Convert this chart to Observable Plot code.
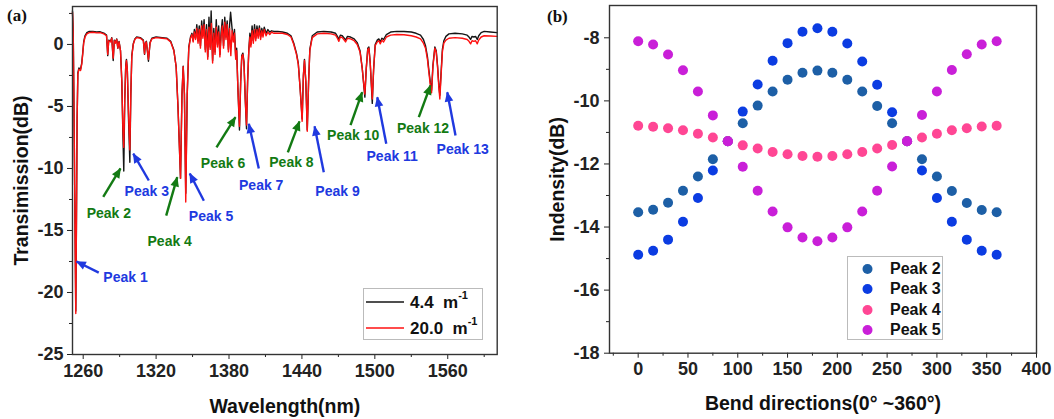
<!DOCTYPE html>
<html>
<head>
<meta charset="utf-8">
<script src="https://cdn.jsdelivr.net/npm/d3@7"></script>
<script src="https://cdn.jsdelivr.net/npm/@observablehq/plot@0.6"></script>
<style>
  html, body { margin: 0; padding: 0; background: #fff; }
  body { width: 1054px; height: 419px; position: relative; overflow: hidden;
         font-family: "Liberation Sans", Arial, sans-serif; }
  .panel { position: absolute; top: 0; }
  .tag { position: absolute; font-family: "Liberation Serif", "Times New Roman", serif;
         font-weight: bold; font-size: 17px; color: #111; }
  .legend { position: absolute; border: 1px solid #bbb; background: #fff; box-sizing: border-box; }
  .row { position: absolute; left: 0; right: 0; height: 20px; display: flex; align-items: center;
         font-weight: bold; color: #111; white-space: pre; }
  sup { font-size: 11px; position: relative; top: -2px; }
</style>
</head>
<body>
<div id="panelA" class="panel" style="left:0px"></div>
<div id="panelB" class="panel" style="left:527px"></div>
<div class="tag" style="left:7px; top:6px">(a)</div>
<div class="tag" style="left:547px; top:7px">(b)</div>

<div id="legendA" class="legend" style="left:363px; top:288px; width:120px; height:52px;"></div>
<div id="legendB" class="legend" style="left:847px; top:256px; width:96px; height:84px;"></div>

<script>
// ---------------- Panel (a) data ----------------
const wavelengthTicks = [1260, 1320, 1380, 1440, 1500, 1560];
const wavelengthMinorTicks = [1290, 1350, 1410, 1470, 1530, 1590];
const transTicks = [-25, -20, -15, -10, -5, 0];
const transMinorTicks = [-22.5, -17.5, -12.5, -7.5, -2.5, 2.5];

const curvatureLabels = ["4.4", "20.0"];

// [wavelength nm, transmission dB] for curvature 4.4 m^-1 (black)
const spectrum44 = [
  [1251.2, 2.7], [1251.8, 1.0], [1252.5, -6], [1253.4, -16], [1253.9, -21.5], [1254.4, -15],
  [1255.0, -6], [1255.6, -2.3], [1256.5, -1.9], [1257.8, -2.0], [1258.8, -1.5], [1259.6, -0.7],
  [1260.4, 0.2], [1261.5, 0.7], [1263, 0.95], [1265, 1.05], [1268, 1.05], [1271, 1.0],
  [1274, 1.02], [1277, 0.92], [1279.2, 0.75], [1280.2, -0.9], [1281, 0.35], [1282.5, 0.25],
  [1283.5, 0.55], [1284.7, -1.3], [1285.6, 0.35], [1286.6, 0.15], [1287.6, 0.45], [1288.5, -0.3],
  [1289.5, 0.25], [1290.7, -0.5], [1291.8, -3.0], [1292.6, -7.0], [1293.4, -10.2], [1294.2, -4.5],
  [1295.0, -1.7], [1295.6, -1.2], [1296.3, -2.0], [1297.3, -6.0], [1298.4, -9.5], [1299.2, -4.0],
  [1300.0, -0.9], [1301.2, 0.05], [1302.5, 0.45], [1304, 0.6], [1307, 0.55], [1309.5, 0.35],
  [1310.5, -0.8], [1311.2, 0.15], [1312, 0.25], [1313.7, -1.35], [1315, 0.15], [1316.5, 0.5],
  [1320, 0.6], [1325, 0.55], [1329, 0.5], [1332, 0.25], [1334.6, -0.45], [1336.5, -1.8],
  [1338.0, -5], [1340.1, -10.8], [1341.3, -4], [1342.3, -1.75], [1343.3, -4], [1344.4, -12.0],
  [1345.6, -4], [1346.9, -0.2], [1348.3, 0.6],
  [1349.5, 0.9], [1350.5, 0.3], [1351.5, 1.2], [1352.5, 0.5], [1353.5, 1.6], [1354.5, 0.3],
  [1355.5, 1.5], [1356.5, -0.1], [1357.5, 1.9], [1358.5, 0.7], [1359.5, 2.0], [1360.5, -0.4],
  [1361.5, 1.6], [1362.5, -1.0], [1363.5, 2.2], [1364.5, -0.2], [1365.3, 2.7], [1366.5, -1.3],
  [1367.5, 1.3], [1368.5, -0.6], [1369.5, 2.0], [1370.5, 0.0], [1371.5, 1.5], [1372.5, -0.8],
  [1373.5, 1.0], [1374.5, 2.0], [1375.5, -0.1], [1376.5, 2.2], [1377.5, 0.6], [1378.5, 1.9],
  [1379.5, -0.4], [1380.5, 1.6], [1381.3, 2.6], [1382.5, 1.3], [1383.5, 0.4], [1384.5, 1.2],
  [1385.5, -1.0], [1386.3, -0.3], [1387.3, -3.5], [1388.6, -6.9], [1389.6, -3.0], [1390.5, -0.9],
  [1391.4, -0.7], [1392.3, -1.4], [1393.4, -4.5], [1394.4, -6.8], [1395.3, -3.0], [1396.3, -0.4],
  [1397.2, 0.9], [1398.0, 0.0], [1399.0, 1.5], [1400.0, 0.3], [1401.0, 1.6], [1402.0, 0.5],
  [1403.0, 1.5], [1404.0, 0.7], [1405.0, 1.5], [1406.0, 0.6], [1407.0, 1.3], [1408.0, 0.8],
  [1409.0, 1.4], [1410.5, 0.9], [1412.0, 1.2], [1413.5, 1.0], [1415.0, 1.1], [1417, 1.05],
  [1420, 1.05], [1424, 1.0], [1428, 0.9], [1431, 0.7], [1433.3, 0.1], [1435.5, -0.7],
  [1437.0, -1.5], [1438.5, -3.5], [1440.2, -6.0], [1441.2, -2.5], [1442.1, -1.2], [1443.2, -3.0],
  [1444.4, -6.9], [1445.5, -3.0], [1446.5, -0.4], [1448.5, 0.7], [1452.6, 1.0], [1458, 1.05],
  [1464, 1.0], [1467.7, 0.9], [1469.2, 0.65], [1470.4, 0.4], [1471.6, 0.75], [1473.2, 0.7],
  [1474.5, 0.55], [1475.9, 0.35], [1477.5, 0.65], [1480, 0.6], [1483, 0.45], [1485.5, 0.15],
  [1487.8, -0.5], [1489.6, -1.9], [1490.9, -3.3], [1491.8, -4.25], [1492.9, -2.0], [1494.2, -0.3],
  [1495.1, -0.2], [1496.2, -1.5], [1497.2, -3.4], [1497.9, -4.75], [1499.0, -2.0], [1500.3, 0.0],
  [1502, 0.35], [1503.3, 0.45], [1504.5, 0.2], [1505.8, 0.5], [1507.2, 0.4], [1509.5, 0.8],
  [1513, 1.0], [1518, 1.05], [1524, 1.05], [1530, 1.0], [1534, 0.9], [1537.6, 0.75],
  [1540, 0.4], [1541.7, -0.1], [1543.3, -1.0], [1544.4, -2.0], [1545.7, -3.1], [1546.7, -3.7],
  [1547.8, -1.7], [1549.4, -0.2], [1550.5, -0.5], [1551.6, -1.7], [1552.7, -3.3], [1553.5, -4.1],
  [1554.5, -2.3], [1555.6, -0.4], [1556.8, 0.3], [1558.5, 0.65], [1561, 0.85], [1566, 0.9],
  [1572, 0.85], [1576, 0.75], [1577.5, 0.6], [1578.8, 0.4], [1580, 0.65], [1581.5, 0.6],
  [1582.9, 0.65], [1584.3, 0.4], [1585.5, 0.7], [1587.5, 0.95], [1590, 1.05], [1595, 1.0],
  [1600.5, 0.95]
];

// [wavelength nm, transmission dB] for curvature 20.0 m^-1 (red)
const spectrum200 = [
  [1251.2, 2.6], [1251.8, 1.0], [1252.5, -6], [1253.4, -16], [1253.9, -21.7], [1254.4, -15],
  [1255.0, -6], [1255.6, -2.4], [1256.5, -2.0], [1257.8, -2.1], [1258.8, -1.6], [1259.6, -0.8],
  [1260.4, 0.1], [1261.5, 0.6], [1263, 0.85], [1265, 0.95], [1268, 0.98], [1271, 0.93],
  [1274, 0.95], [1277, 0.85], [1279.2, 0.7], [1280.2, -0.8], [1281, 0.3], [1282.5, 0.2],
  [1283.5, 0.5], [1284.7, -1.1], [1285.6, 0.3], [1286.6, 0.1], [1287.6, 0.4], [1288.5, -0.3],
  [1289.5, 0.2], [1290.7, -0.5], [1291.8, -3.0], [1292.6, -6.5], [1293.4, -8.3], [1294.2, -4.5],
  [1295.0, -1.8], [1295.6, -1.3], [1296.3, -2.0], [1297.3, -5.5], [1298.4, -8.5], [1299.2, -4.0],
  [1300.0, -1.0], [1301.2, 0.0], [1302.5, 0.4], [1304, 0.55], [1307, 0.5], [1309.5, 0.3],
  [1310.5, -0.75], [1311.2, 0.1], [1312, 0.2], [1313.7, -1.2], [1315, 0.1], [1316.5, 0.45],
  [1320, 0.55], [1325, 0.5], [1329, 0.45], [1332, 0.2], [1334.6, -0.5], [1336.5, -1.8],
  [1338.0, -5], [1340.1, -10.8], [1341.3, -4], [1342.3, -1.8], [1343.3, -4], [1344.4, -12.7],
  [1345.6, -4], [1346.9, -0.3], [1348.3, 0.5],
  [1349.5, 0.8], [1350.5, 0.2], [1351.5, 1.0], [1352.5, 0.4], [1353.5, 1.3], [1354.5, 0.1],
  [1355.5, 1.2], [1356.5, -0.3], [1357.5, 1.5], [1358.5, 0.5], [1359.5, 1.6], [1360.5, -0.6],
  [1361.5, 1.2], [1362.5, -1.2], [1363.5, 1.4], [1364.5, -0.4], [1365.5, 1.7], [1366.5, -1.5],
  [1367.5, 0.9], [1368.5, -0.8], [1369.5, 1.4], [1370.5, -0.2], [1371.5, 1.0], [1372.5, -1.0],
  [1373.5, 0.6], [1374.5, 1.5], [1375.5, -0.3], [1376.5, 1.8], [1377.5, 0.4], [1378.5, 1.6],
  [1379.5, -0.6], [1380.5, 1.3], [1381.5, -0.9], [1382.5, 1.1], [1383.5, 0.2], [1384.5, 0.9],
  [1385.5, -1.2], [1386.3, -0.5], [1387.3, -3.5], [1388.6, -6.6], [1389.6, -3.0], [1390.5, -1.0],
  [1391.4, -0.8], [1392.3, -1.5], [1393.4, -4.5], [1394.4, -6.5], [1395.3, -3.0], [1396.3, -0.5],
  [1397.2, 0.6], [1398.0, -0.2], [1399.0, 1.1], [1400.0, 0.1], [1401.0, 1.2], [1402.0, 0.3],
  [1403.0, 1.2], [1404.0, 0.5], [1405.0, 1.3], [1406.0, 0.4], [1407.0, 1.1], [1408.0, 0.6],
  [1409.0, 1.2], [1410.5, 0.7], [1412.0, 1.0], [1413.5, 0.8], [1415.0, 1.0], [1417, 0.9],
  [1420, 0.9], [1424, 0.9], [1428, 0.8], [1431, 0.6], [1433.3, 0.0], [1435.5, -0.8],
  [1437.0, -1.6], [1438.5, -3.5], [1440.2, -6.2], [1441.2, -2.5], [1442.1, -1.3], [1443.2, -3.0],
  [1444.4, -7.0], [1445.5, -3.0], [1446.5, -0.5], [1448.5, 0.55], [1452.6, 0.85], [1458, 0.9],
  [1464, 0.85], [1467.7, 0.75], [1469.2, 0.5], [1470.4, 0.25], [1471.6, 0.6], [1473.2, 0.55],
  [1474.5, 0.4], [1475.9, 0.2], [1477.5, 0.5], [1480, 0.45], [1483, 0.3], [1485.5, 0.0],
  [1487.8, -0.6], [1489.6, -1.9], [1490.9, -3.2], [1491.8, -4.0], [1492.9, -2.0], [1494.2, -0.4],
  [1495.1, -0.3], [1496.2, -1.5], [1497.2, -3.2], [1497.9, -4.4], [1499.0, -2.0], [1500.3, -0.1],
  [1502, 0.2], [1503.3, 0.3], [1504.5, 0.05], [1505.8, 0.35], [1507.2, 0.2], [1509.5, 0.6],
  [1513, 0.75], [1518, 0.8], [1524, 0.78], [1530, 0.7], [1534, 0.6], [1537.6, 0.45],
  [1540, 0.1], [1541.7, -0.3], [1543.3, -1.2], [1544.4, -2.2], [1545.7, -3.3], [1546.7, -3.9],
  [1547.8, -1.8], [1549.4, -0.3], [1550.5, -0.6], [1551.6, -1.8], [1552.7, -3.5], [1553.5, -4.4],
  [1554.5, -2.5], [1555.6, -0.6], [1556.8, 0.1], [1558.5, 0.35], [1561, 0.5], [1566, 0.55],
  [1572, 0.5], [1576, 0.4], [1577.5, 0.25], [1578.8, 0.05], [1580, 0.3], [1581.5, 0.25],
  [1582.9, 0.3], [1584.3, 0.05], [1585.5, 0.35], [1587.5, 0.6], [1590, 0.7], [1595, 0.68],
  [1600.5, 0.65]
];

// Peak annotations (positions in data units: wavelength, dB)
const peakNames = ["Peak 1", "Peak 2", "Peak 3", "Peak 4", "Peak 5", "Peak 6", "Peak 7",
                   "Peak 8", "Peak 9", "Peak 10", "Peak 11", "Peak 12", "Peak 13"];
const peakLabelWave = [1294.8, 1281.1, 1312.3, 1331.2, 1365.2, 1375.1, 1406.5, 1431.4, 1469.3, 1482.2, 1514.3, 1539.7, 1572.3];
const peakLabelTrans = [-18.77, -13.65, -11.83, -15.86, -13.87, -9.62, -11.37, -9.54, -11.83, -7.34, -9.01, -6.75, -8.47];
const arrowTailWave = [1272.8, 1276.5, 1314.0, 1328.3, 1359.3, 1369.7, 1404.5, 1428.4, 1458.0, 1480.0, 1509.4, 1536.2, 1566.4];
const arrowTailTrans = [-18.4, -12.3, -10.97, -13.8, -12.6, -8.3, -10.0, -8.7, -10.3, -6.5, -8.0, -5.86, -7.34];
const arrowTipWave = [1254.5, 1290.7, 1301.2, 1337.4, 1347.7, 1385.3, 1396.3, 1438.0, 1450.4, 1489.6, 1502.0, 1545.8, 1559.6];
const arrowTipTrans = [-17.5, -10.0, -8.8, -10.7, -10.4, -5.86, -6.4, -6.2, -6.6, -3.85, -4.25, -3.3, -3.85];

// ---------------- Panel (b) data ----------------
const bendTicks = [0, 50, 100, 150, 200, 250, 300, 350, 400];
const bendMinorTicks = [-25, 25, 75, 125, 175, 225, 275, 325, 375];
const intensityTicks = [-18, -16, -14, -12, -10, -8];
const intensityMinorTicks = [-17, -15, -13, -11, -9];

const bendAngles = [0, 15, 30, 45, 60, 75, 90, 105, 120, 135, 150, 165, 180, 195, 210, 225, 240, 255, 270, 285, 300, 315, 330, 345, 360];
const seriesNames = ["Peak 2", "Peak 3", "Peak 4", "Peak 5"];
const peak2 = [-13.53, -13.45, -13.23, -12.85, -12.40, -11.85, -11.28, -10.71, -10.15, -9.70, -9.33, -9.11, -9.04, -9.11, -9.33, -9.70, -10.16, -10.71, -11.28, -11.85, -12.40, -12.86, -13.24, -13.46, -13.53];
const peak3 = [-14.88, -14.75, -14.40, -13.83, -13.08, -12.21, -11.28, -10.34, -9.48, -8.73, -8.17, -7.81, -7.70, -7.81, -8.18, -8.75, -9.49, -10.36, -11.28, -12.21, -13.08, -13.83, -14.40, -14.75, -14.88];
const peak4 = [-10.79, -10.82, -10.87, -10.93, -11.04, -11.16, -11.28, -11.41, -11.51, -11.62, -11.69, -11.75, -11.77, -11.75, -11.69, -11.62, -11.51, -11.40, -11.28, -11.16, -11.04, -10.93, -10.87, -10.81, -10.79];
const peak5 = [-8.11, -8.21, -8.53, -9.03, -9.70, -10.46, -11.28, -12.09, -12.85, -13.51, -14.01, -14.33, -14.45, -14.33, -14.01, -13.51, -12.85, -12.08, -11.28, -10.45, -9.70, -9.02, -8.52, -8.21, -8.11];

// ---------------- styling ----------------
const GREEN = "#137a13";
const BLUE = "#2039df";
const seriesColors = ["#1d5fa6", "#0b3ce2", "#ff4694", "#c91fd8"];
const FONT = "'Liberation Sans', Arial, Helvetica, sans-serif";

// ---------------- build tables ----------------
const peaks = peakNames.map((name, i) => ({
  name,
  lx: peakLabelWave[i], ly: peakLabelTrans[i],
  x1: arrowTailWave[i], y1: arrowTailTrans[i],
  x2: arrowTipWave[i], y2: arrowTipTrans[i],
  group: i % 2 === 0 ? "blue" : "green"
}));
const bluePeaks = peaks.filter(d => d.group === "blue");
const greenPeaks = peaks.filter(d => d.group === "green");

const fmt = d => String(d);

function axisStyle(extra) {
  return Object.assign({label: null, fontSize: 18, fontWeight: "bold"}, extra);
}
const titleStyle = {text: d => d, fontSize: 19.5, fontWeight: "bold", fill: "#111", textAnchor: "middle", lineAnchor: "middle"};

const chartA = Plot.plot({
  width: 527, height: 419,
  marginTop: 6, marginRight: 30.3, marginBottom: 65, marginLeft: 72,
  x: {domain: [1251.2, 1600.7]},
  y: {domain: [-25, 3.06]},
  style: {fontFamily: FONT, fontWeight: "bold", fontSize: "18px", color: "#222", background: "transparent", overflow: "visible"},
  marks: [
    Plot.axisX(wavelengthMinorTicks, axisStyle({tickSize: 3, tickFormat: () => ""})),
    Plot.axisX(wavelengthTicks, axisStyle({tickSize: 5, tickPadding: 5, tickFormat: fmt})),
    Plot.axisY(transMinorTicks, axisStyle({tickSize: 3, tickFormat: () => ""})),
    Plot.axisY(transTicks, axisStyle({tickSize: 5, tickPadding: 4, tickFormat: fmt})),
    Plot.text(["Wavelength(nm)"], {...titleStyle, frameAnchor: "bottom", dy: 52.5}),
    Plot.text(["Transimission(dB)"], {...titleStyle, frameAnchor: "left", dx: -51, rotate: -90}),
    Plot.line(spectrum44, {x: d => d[0], y: d => d[1], stroke: "#151515", strokeWidth: 1.4}),
    Plot.line(spectrum200, {x: d => d[0], y: d => d[1], stroke: "#ff1010", strokeWidth: 1.4}),
    Plot.link(greenPeaks, {x1: "x1", y1: "y1", x2: "x2", y2: "y2", stroke: GREEN, strokeWidth: 2.4, markerEnd: "arrow"}),
    Plot.link(bluePeaks, {x1: "x1", y1: "y1", x2: "x2", y2: "y2", stroke: BLUE, strokeWidth: 2.4, markerEnd: "arrow"}),
    Plot.text(greenPeaks, {x: "lx", y: "ly", text: "name", fill: GREEN, fontSize: 14, fontWeight: "bold"}),
    Plot.text(bluePeaks, {x: "lx", y: "ly", text: "name", fill: BLUE, fontSize: 14, fontWeight: "bold"}),
    Plot.frame({stroke: "#333", strokeWidth: 1.4})
  ]
});

// filled triangular arrowheads
d3.select(chartA).selectAll("marker").each(function () {
  const m = d3.select(this);
  const c = m.attr("stroke");
  m.attr("viewBox", "-7 -5 10 10").attr("fill", c).attr("stroke", "none");
  m.selectAll("path").attr("d", "M-5.8,-2.7L0.4,0L-5.8,2.7Z");
});
document.getElementById("panelA").appendChild(chartA);

const peakSeries = [peak2, peak3, peak4, peak5];
const dotMarks = peakSeries.map((vals, k) =>
  Plot.dot(bendAngles.map((a, i) => ({angle: a, value: vals[i]})),
           {x: "angle", y: "value", r: 5, fill: seriesColors[k], stroke: "none"})
);

const chartB = Plot.plot({
  width: 527, height: 419,
  marginTop: 5, marginRight: 18, marginBottom: 66.3, marginLeft: 82,
  x: {domain: [-28.8, 400]},
  y: {domain: [-18, -6.976]},
  style: {fontFamily: FONT, fontWeight: "bold", fontSize: "18px", color: "#222", background: "transparent", overflow: "visible"},
  marks: [
    Plot.axisX(bendMinorTicks, axisStyle({tickSize: 3, tickFormat: () => ""})),
    Plot.axisX(bendTicks, axisStyle({tickSize: 5, tickPadding: 4, tickFormat: fmt})),
    Plot.axisY(intensityMinorTicks, axisStyle({tickSize: 3, tickFormat: () => ""})),
    Plot.axisY(intensityTicks, axisStyle({tickSize: 5, tickPadding: 5, tickFormat: fmt})),
    Plot.text(["Bend directions(0° ~360°)"], {...titleStyle, frameAnchor: "bottom", dy: 51}),
    Plot.text(["Indensity(dB)"], {...titleStyle, frameAnchor: "left", dx: -51.5, rotate: -90}),
    ...dotMarks,
    Plot.frame({stroke: "#333", strokeWidth: 1.4})
  ]
});
document.getElementById("panelB").appendChild(chartB);

// ---------------- legends ----------------
const legendA = document.getElementById("legendA");
const lineColors = ["#151515", "#ff1010"];
curvatureLabels.forEach((lab, i) => {
  const row = document.createElement("div");
  row.className = "row";
  row.style.top = (i === 0 ? 3 : 29) + "px";
  row.style.fontSize = "17px";
  row.innerHTML = `<svg width="46" height="20" style="flex:none"><line x1="2" x2="40" y1="10" y2="10" stroke="${lineColors[i]}" stroke-width="1.5"/></svg><span>${lab}  m<sup>-1</sup></span>`;
  legendA.appendChild(row);
});

const legendB = document.getElementById("legendB");
seriesNames.forEach((name, i) => {
  const row = document.createElement("div");
  row.className = "row";
  row.style.top = (2 + i * 20.3) + "px";
  row.style.fontSize = "16px";
  row.innerHTML = `<svg width="42" height="20" style="flex:none"><circle cx="19.5" cy="10" r="5" fill="${seriesColors[i]}"/></svg><span>${name}</span>`;
  legendB.appendChild(row);
});
</script>
</body>
</html>
